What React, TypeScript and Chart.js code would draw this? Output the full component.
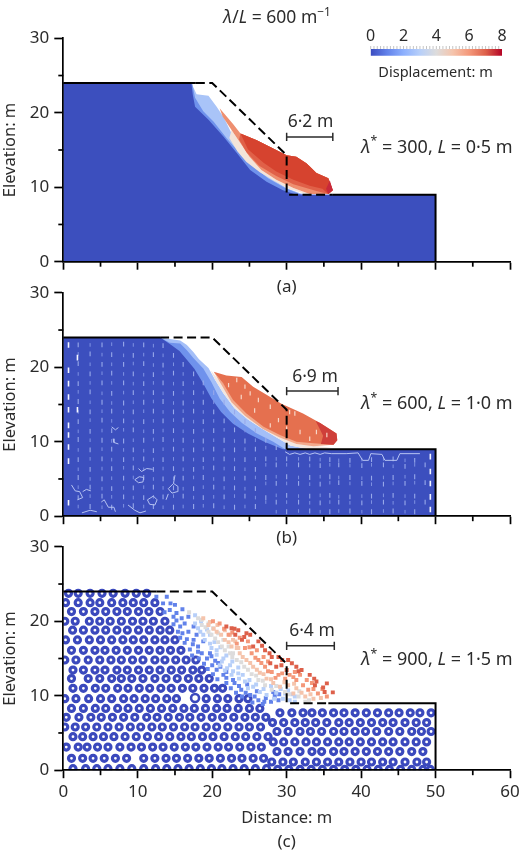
import React, { useEffect, useRef } from 'react';
import { Chart, registerables } from 'chart.js';

Chart.register(...registerables);
Chart.defaults.font.family = '"Noto Sans", sans-serif';

type Pt = [number, number];
type Run = [string, string?];

const INK = '#2b2b2b';
const BODY_BLUE = '#3c4fbe';

const xMinor = [5, 15, 25, 35, 45, 55];
const yMinor = [5, 15, 25];
const colorbarTicks = [0, 2, 4, 6, 8];
const colorbarStops = ['#3b4cc0', '#6282ea', '#8db0fe', '#b7cff9', '#dddcdc', '#f5c4ac', '#f4987a', '#dd604a', '#b40426'];

// panel (a): outlines of the coloured zones
const aLight: Pt[] = [[0, 0], [0, 24], [17.2, 24], [17.9, 22.5], [19.5, 22.3], [20.6, 20.8], [21.6, 19.3], [22.8, 16.8], [24.4, 14.8], [25.5, 13.2], [27.3, 11.6], [30, 9.9], [31.8, 9.2], [33.1, 9], [50, 9], [50, 0]];
const aBlueMid: Pt[] = [[0, 0], [0, 24], [17.3, 24], [17.7, 22], [18.8, 20.2], [20.2, 18.8], [22, 16.5], [23.7, 14.6], [25.4, 12.9], [27.5, 11.2], [29.8, 9.9], [32, 9], [50, 9], [50, 0]];
const aPale: Pt[] = [[22.6, 17.7], [23.8, 15.9], [25, 14.1], [26.6, 12.3], [28.6, 11], [30.9, 9.9], [33.1, 9.1], [33, 9], [30.5, 9.7], [28.4, 10.8], [26.4, 12], [24.6, 13.4], [23.4, 14.8], [22.3, 16.6]];
const aDeep: Pt[] = [[0, 0], [0, 24], [17.2, 24], [17.4, 22.4], [17.7, 20.8], [19.5, 19.05], [21.5, 16.8], [23.3, 14.6], [25.1, 12.3], [27.3, 10.75], [29.5, 9.6], [31, 9.1], [32.7, 9], [50, 9], [50, 0]];
const aSlide: Pt[] = [[21, 20.6], [22.8, 18.5], [23.8, 17.2], [26, 16.3], [28.6, 15], [30, 14.3], [31.3, 14.1], [32.7, 13.2], [34, 11.9], [35.6, 11.2], [36.2, 9.6], [35.6, 9.1], [33.1, 9.1], [30.9, 9.9], [28.6, 11], [26.6, 12.3], [25, 14.1], [23.8, 15.9], [22.6, 17.7], [21.4, 19.5]];
const aMid: Pt[] = [[23.8, 17.2], [26, 16.3], [28.6, 15], [30, 14.3], [31.3, 14.1], [32.7, 13.2], [34, 11.9], [35.6, 11.2], [36.2, 9.6], [35.6, 9.1], [34, 9.5], [30.9, 10.4], [28.6, 11.5], [26.3, 12.9], [24.6, 14.7], [23.6, 16.4]];
const aRed: Pt[] = [[23.8, 17.2], [26, 16.3], [28.6, 15], [30, 14.3], [31.3, 14.1], [32.7, 13.2], [34, 11.9], [35.6, 11.2], [36.2, 9.6], [35.6, 9.1], [34.8, 9.8], [33.1, 10.2], [30.9, 11], [28.6, 12.1], [26.9, 13.3], [24.8, 15.1]];
const aTip: Pt[] = [[35.8, 10.9], [36.2, 9.6], [35.6, 9.1], [35.3, 9.8]];

// panel (b)
const bLight: Pt[] = [[0, 0], [0, 24], [13, 24], [15.7, 23.6], [16.6, 23], [17.5, 22], [18.2, 21.1], [19.5, 19.9], [20.4, 18.3], [21.5, 16.5], [23, 14.5], [24.8, 13], [26.6, 11.8], [28.6, 10.6], [30.5, 9.5], [33, 9], [50, 9], [50, 0]];
const bBlueMid: Pt[] = [[0, 0], [0, 24], [13, 24], [14.3, 23.3], [15.7, 23.2], [16.6, 22.3], [17.5, 21.2], [18.8, 19.85], [19.9, 18], [21, 15.8], [22.4, 14], [24, 12.5], [26, 11.1], [28.2, 10], [29.8, 9], [50, 9], [50, 0]];
const bDeep: Pt[] = [[0, 0], [0, 24], [13, 24], [14.5, 23], [15.6, 22.2], [16.6, 21], [17.6, 19.8], [18.7, 18], [19.9, 15.8], [21.2, 14], [22.8, 12.4], [24.8, 11.1], [27, 10], [29.5, 9], [50, 9], [50, 0]];
const bPale: Pt[] = [[19.8, 19.6], [20.4, 18.3], [21.5, 16.5], [23, 14.5], [24.8, 13], [26.6, 11.8], [28.6, 10.6], [30.5, 9.5], [33, 9], [36, 9.2], [33.6, 9.5], [31.3, 9.7], [29.1, 10.7], [26.9, 11.9], [24.6, 13.7], [22.8, 15.5], [21.5, 17.6]];
const bPeach: Pt[] = [[20.2, 19.4], [21.4, 17.4], [22.6, 15.3], [24.4, 13.5], [26.8, 11.7], [29, 10.6], [31.3, 9.7], [33.6, 9.4], [36.3, 9.6], [33, 11], [28, 13], [23, 16]];
const bSlide: Pt[] = [[20.2, 19.4], [21.9, 18.9], [23.95, 18.7], [25.5, 17.4], [27.3, 16.3], [29.3, 15.1], [32.2, 13.8], [34.5, 12.5], [36.7, 11.1], [36.8, 10.2], [36.3, 9.6], [33.6, 9.8], [31.3, 10], [29.1, 10.9], [26.9, 12], [24.6, 13.8], [22.8, 15.6], [21.5, 17.8]];
const bTip: Pt[] = [[33.9, 12.8], [34.5, 12.5], [36.7, 11.1], [36.8, 10.2], [36.3, 9.6], [34.6, 9.7], [34.9, 10.8]];

const bDashColX = [2, 3.6, 5.2, 6.5, 8.1, 9.4, 10.8, 12.1, 13.4, 14.8, 16.1, 17.5, 18.8, 20.2, 21.6, 23, 24.4, 25.8, 27.2, 28.6, 30, 31.6, 33.1, 34.5, 35.8, 37, 38.5, 40.1, 41.4, 43, 44.3, 45.9, 47.2, 48.6];
const bDashColY = [
  [23, 20.5, 17.8, 15.4, 12.7, 10.3, 7.6, 5.2, 2.5],
  [21.8, 19.1, 16.7, 14, 11.4, 8.9, 6.3, 3.9, 1.3],
  [23, 20.4, 17.9, 15.3, 12.9, 10.2, 7.7, 5, 2.7],
  [21.7, 19.2, 16.5, 14.1, 11.5, 9, 6.4, 3.7, 1.2],
  [23.1, 20.4, 17.9, 15.2, 12.8, 10.1, 7.6, 5.1, 2.6],
  [21.6, 19.1, 16.6, 14, 11.6, 8.9, 6.5, 3.8, 1.4],
  [23, 20.5, 17.8, 15.3, 12.7, 10.2, 7.7, 5.2, 2.5],
  [21.7, 19, 16.6, 14.1, 11.4, 8.8, 6.3, 3.9, 1.3],
  [22.9, 20.3, 17.9, 15.4, 12.8, 10.3, 7.6, 5, 2.6],
  [21.6, 19.2, 16.5, 14, 11.5, 9, 6.4, 3.8, 1.2],
  [20.4, 17.8, 15.2, 12.9, 10.2, 7.7, 5.1, 2.7],
  [19.1, 16.6, 14.1, 11.4, 8.9, 6.3, 3.7, 1.3],
  [17.9, 15.3, 12.7, 10.1, 7.6, 5.2, 2.5],
  [16.6, 14, 11.5, 9, 6.5, 3.9, 1.4],
  [15.3, 12.8, 10.2, 7.7, 5, 2.6],
  [14, 11.6, 8.9, 6.4, 3.8, 1.2],
  [12.7, 10.1, 7.6, 5.1, 2.7],
  [11.5, 9, 6.3, 3.7, 1.3],
  [10.2, 7.7, 5.2, 2.5],
  [9.2, 6.9, 4.4, 1.9],
  [7.7, 5.3, 2.8, 0.6],
  [6.9, 4.4, 1.9],
  [7.7, 5.2, 2.7, 0.7],
  [6.8, 4.3, 1.8],
  [7.6, 5.3, 2.8, 0.6],
  [6.9, 4.5, 1.9],
  [7.5, 5.2, 2.6, 0.7],
  [6.8, 4.4, 1.8],
  [7.6, 5.1, 2.7, 0.6],
  [6.9, 4.3, 1.9],
  [7.7, 5.2, 2.8, 0.7],
  [6.7, 4.4, 1.8],
  [7.5, 5.3, 2.7, 0.6],
  [6.9, 4.5, 1.9],
];
const bSlideFlecks: Pt[] = [[24.4, 17.4], [25.1, 16.5], [26.2, 15.6], [27.8, 14.7], [30.4, 14], [31.1, 13.8], [27.8, 12.2], [30, 11.8], [31.8, 11.3], [34, 11.3], [33.1, 10.4], [35.4, 10.9], [23.3, 18.3], [22.2, 17.6], [23.9, 16], [25.7, 14.2], [28.9, 12.9]];
const bEdgeMarks: Pt[] = [[0.7, 23], [0.7, 19.6], [0.7, 17.8], [0.7, 16], [0.7, 14.3], [0.7, 12.2], [0.7, 10.9], [0.7, 9.3], [1.9, 21.3], [1.9, 14.3], [0.7, 7.4], [0.7, 1.8], [49.3, 8], [49.3, 6], [49.3, 4.4], [49.3, 2.6], [49.3, 0.9]];
const bSeam: Pt[] = [[29.8, 8.65], [30.4, 8.3], [31.1, 8.5], [31.8, 8.3], [32.5, 8.5], [33.1, 8.3], [33.8, 8.5], [34.5, 8.3], [35.1, 8.5], [36, 8.4], [38, 8.4], [39.6, 8.5], [40.2, 7.5], [41, 7.5], [41.3, 8.4], [42.8, 8.3], [43.2, 7.5], [44.8, 7.5], [45.2, 8.4], [47.9, 8.4]];
const bCracks: (Pt | null)[] = [
  [6.5, 12], [7, 11.6], [7.4, 11.9], null,
  [6.7, 10.4], [6.8, 9.9], [7.4, 9.7], null,
  [10.1, 6.4], [10.5, 6], [11.2, 6.4], [12, 6.3], null,
  [10.2, 5.3], [9.6, 4.9], [10.1, 4.5], [10.7, 4.6], [10.8, 5.2], [10.2, 5.3], null,
  [15, 5.5], [14.8, 4.4], [14.1, 3.7], [14.6, 3.1], [15.3, 3.3], [15.4, 4], [14.8, 4.4], null,
  [14.1, 3], [13.8, 2.2], null,
  [11.3, 2.2], [12.1, 2.7], [12.6, 2.2], [12.3, 1.5], [11.6, 1.6], [11.3, 2.2], null,
  [1.1, 4.2], [1.6, 3.4], [2.2, 3.3], [2.6, 2.5], [1.9, 2.2], null,
  [2.6, 3.3], [3.1, 3.6], [3.7, 3.4], null,
  [2.5, 0.45], [3.6, 0.8], [4.5, 0.6], null,
  [5.1, 1.9], [5.5, 2.2], [6.05, 1.2], [6.8, 1.2], [7, 0.6], null,
  [8.7, 1.5], [9.6, 0.8], [10.3, 0.45], [11.1, 0.7],
];

// panel (c): ring rows, then loose particles per displacement class
const ringRowY = [23.75, 22.5, 21.3, 20, 18.8, 17.5, 16.1, 14.8, 13.45, 12.3, 11, 9.6, 8.3, 7.1, 5.8, 4.5, 3.1, 1.6, 0.2, 7.7, 6.4, 5.2, 3.8, 2.5, 1.1, 0.1];
const ringRowX = [
  [0.7, 2, 3.6, 5.2, 6.7, 8.3, 9.8, 11.2],
  [0.3, 2, 3.6, 4.9, 6.5, 8, 9.4, 10.8, 12.3],
  [1.1, 2.7, 4.25, 5.7, 7.2, 8.6, 10.1, 11.5, 13],
  [0.2, 1.6, 3.5, 4.9, 6.3, 7.8, 9.3, 10.7, 12.1, 13.65],
  [1.25, 2.7, 4.25, 5.7, 7.2, 8.6, 10.1, 11.55, 13, 14.3],
  [0.3, 1.9, 3.5, 5, 6.5, 8, 9.4, 10.8, 12.3, 13.65, 15],
  [1.1, 2.7, 4.25, 5.6, 7.1, 8.6, 10.1, 11.55, 13, 14.4, 15.8],
  [0.2, 1.7, 3.35, 4.9, 6.4, 7.8, 9.3, 10.7, 12.3, 13.65, 15.1, 16.5, 17.8],
  [1.3, 2.7, 4.25, 5.6, 7.2, 8.6, 10.1, 11.55, 13, 14.5, 15.9, 17.4, 18.6],
  [1.1, 3.35, 4.9, 6.5, 7.8, 9.2, 10.7, 12.3, 13.8, 15.3, 16.8, 18.2, 19.6],
  [1.3, 2.7, 4.3, 5.7, 7.3, 8.7, 10.2, 11.6, 13.1, 14.5, 16, 17.4, 18.9, 20.3, 21.4],
  [0.2, 1.7, 3.4, 5, 6.5, 8.1, 9.5, 11, 12.4, 13.9, 15.2, 19.2, 20.7, 22.1, 23.6, 24.8],
  [1.1, 2.7, 4.3, 5.7, 7.3, 8.7, 10.2, 11.7, 13.2, 14.7, 16.2, 17.6, 19.1, 20.6, 22, 23.5, 25, 26.4],
  [0.4, 2.1, 3.7, 5.1, 6.6, 8.1, 9.6, 11.2, 12.6, 14.1, 15.6, 17, 18.5, 20, 21.4, 22.9, 24.4, 25.8, 27.2],
  [0.2, 1.6, 3, 4.5, 6, 7.5, 9, 10.4, 11.9, 13.3, 14.8, 16.3, 17.7, 19.2, 20.6, 22.1, 23.6, 25, 26.5],
  [1.3, 2.6, 4, 5.4, 6.8, 8.3, 9.8, 11.3, 12.8, 14.3, 15.8, 17.2, 18.7, 20.1, 21.6, 23.1, 24.5, 26, 27.5],
  [0.4, 2, 3.2, 4.6, 6, 7.6, 9.1, 10.5, 12, 13.4, 14.9, 16.4, 17.8, 19.3, 20.8, 22.2, 23.7, 25.2, 26.6],
  [1.1, 2.6, 4, 5.5, 7, 8.5, 10.8, 12.3, 13.8, 15.2, 16.7, 18.2, 19.6, 21.1, 22.6, 24, 25.5, 26.9],
  [1.3, 3, 4.5, 6, 7.6, 9.2, 10.8, 12.4, 13.9, 15.4, 16.9, 18.4, 19.9, 21.3, 22.8, 24.3, 25.8, 27.3],
  [29.1, 30.7, 32.2, 33.4, 34.8, 36.3, 37.7, 39.2, 40.7, 42.2, 43.7, 45.1, 46.6, 47.9, 49.4],
  [28.1, 29.6, 31.1, 32.5, 33.9, 35.4, 37, 38.4, 39.9, 41.4, 42.9, 44.3, 45.9, 47.4, 48.8],
  [28.7, 30.2, 31.8, 33.2, 34.7, 36.3, 37.7, 39.2, 40.6, 42.1, 43.7, 45.2, 46.8, 48.1, 49.4],
  [28.2, 29.6, 31.1, 32.6, 34, 35.5, 37, 38.4, 39.9, 41.4, 42.9, 44.3, 45.9, 47.4, 48.8],
  [28.7, 30.2, 31.8, 33.4, 34.7, 36.3, 37.7, 39.2, 40.7, 42.2, 43.7, 45.2, 46.8, 48.3],
  [28, 29.5, 30.9, 32.5, 34, 35.5, 37, 38.5, 40, 41.4, 42.9, 44.3, 45.9, 47.5, 48.8],
  [28.8, 30.3, 31.8, 33.3, 34.8, 36.3, 37.8, 39.3, 40.8, 42.3, 43.8, 45.3, 46.8, 48.3, 49.3],
];
const cBigRings: Pt[] = [[17.7, 9.7]];
const cDotClass = [1, 2.5, 4, 5, 6, 7];
const cDots: Pt[][] = [
  [[16.8, 20.6], [17.5, 19.3], [17.9, 18.2], [18.8, 17.3], [19.7, 15.7], [20.8, 14.4], [21.9, 13.2], [22.8, 12.1], [23.9, 10.8], [25.1, 10.1], [26.2, 9.4], [28.2, 10.5], [28.9, 9.4], [12.5, 23.3], [13.4, 22.4], [14.3, 21.5], [15.2, 21.1], [15.9, 20.4], [16.3, 19.7], [14.8, 20.6], [15.7, 19.3], [16.8, 18.6], [17.5, 17.5], [18.1, 16.6], [18.6, 15.7], [19.3, 15], [20, 14.1], [20.6, 13.5], [21.5, 12.8], [13.9, 23.3], [15, 22.2], [16, 21.6], [24.7, 11.5], [26, 10.6], [27.2, 9.7], [15.4, 18.6], [15.7, 17.8], [16.3, 17.1], [17, 16.2], [17.3, 15.4], [18.2, 15], [18.9, 14.3], [19.4, 13.6], [20.1, 12.9], [20.7, 12.2], [21.9, 11.7], [22.5, 11], [23.2, 10.4], [24, 9.9], [25.4, 9.1], [26.8, 8.9], [16, 18.4], [16.6, 17.6], [17.4, 16.9], [18.1, 15.9], [19.9, 15.3], [20.4, 14.7], [21.1, 13.9], [21.9, 12.4], [23, 11.7], [23.6, 11.3], [24.5, 10.4], [25.7, 9.9], [27, 9.2], [27.9, 9.2], [28.4, 10], [29, 10.2], [13.6, 21.2], [14.8, 19.6], [15.2, 20.1], [14.4, 22.4]],
  [[17.7, 20.8], [18.1, 19.05], [18.8, 18.2], [19.7, 17], [20.6, 16.1], [21.5, 15], [22.4, 14.1], [23.5, 13], [24.4, 11.9], [25.5, 11.2], [26.4, 10.5], [27.3, 10.1], [29.5, 9.6], [30.4, 9.4], [31.1, 9.2], [17.7, 19.7], [18.4, 18.6], [19, 17.5], [19.9, 16.4], [20.6, 15.5], [21.3, 14.6], [22, 13.7], [22.6, 12.8], [27.9, 11.3], [28.6, 10.4], [29.8, 10.3], [30.8, 10.2], [18.5, 20], [19.3, 18.9], [19.7, 18.2], [20.3, 17.2], [21.1, 16.5], [21.9, 15.4], [22.7, 14.6], [23.5, 13.8], [24.1, 12.8], [25, 12.1], [25.9, 11.5], [26.9, 10.9], [28.3, 9.6], [29.2, 10.9], [30.2, 10.7], [31.1, 9.9], [21, 14.1], [21.7, 13.4], [22.8, 13.3], [23.6, 12.3], [24.8, 11]],
  [[18.1, 20.4], [18.6, 19.5], [19.5, 18.6], [20.4, 17.7], [21.3, 16.6], [22.4, 15.7], [23.3, 14.8], [24.3, 13.9], [25.3, 12.9], [26.2, 12.1], [27.1, 11.4], [28, 10.8], [29.8, 10.5], [31.6, 9.9], [32.5, 9.2], [18.6, 20.2], [19.5, 19.7], [20.1, 19.05], [20.8, 18.4], [21.5, 17.5], [22.2, 16.6], [22.8, 15.7], [16.9, 21.2], [19.1, 19.2], [19.9, 18.2], [20.8, 17.2], [21.7, 16.1], [22.7, 15.2], [23.9, 14.5], [24.8, 13.5], [25.9, 12.7], [26.8, 12], [28.6, 11.3], [30.3, 10.2], [31.7, 10.6], [33, 9.4]],
  [[18.8, 20.4], [19.5, 19.5], [20.6, 18.6], [21.7, 17.5], [22.6, 16.6], [23.7, 15.7], [24.6, 14.8], [25.5, 13.9], [26.4, 13.1], [27.3, 12.3], [28.2, 11.7], [29.1, 11.2], [30.2, 11.4], [31.3, 11], [32.5, 9.9], [33.6, 9.6], [30.9, 10.3], [22.8, 17.5], [19.7, 19.9], [20.7, 19.5], [21.7, 18.8], [22.4, 18.2], [23.1, 17.3], [23.5, 16.4], [20.2, 19], [21.2, 18.2], [22.2, 17.2], [23.3, 16.4], [24.1, 15.2], [25.1, 14.4], [26, 13.5], [26.9, 12.9], [27.9, 12.2], [29.7, 11.8], [31, 11.6], [32, 10.4], [33.2, 10.2], [34.6, 9.7]],
  [[21, 19.7], [20.1, 20], [22.2, 18.2], [23.3, 17], [24.4, 16.4], [25.3, 15.7], [26.2, 14.8], [27.1, 13.9], [28, 13.2], [28.9, 12.8], [29.8, 12.3], [30.4, 12.8], [31.3, 12.1], [32.2, 11.4], [32.9, 10.8], [34.2, 10.3], [35.4, 9.9], [31.1, 13.2], [32.7, 12.1], [26, 16.1], [24.8, 17.3], [26.9, 15.2], [21.6, 19], [22.7, 18.5], [23.7, 17.8], [25, 16.5], [25.8, 15.1], [26.6, 14.4], [27.5, 14.6], [27.5, 13.3], [28.5, 12.4], [29.4, 13], [30.9, 12.5], [31.8, 12.8], [33.4, 11.7], [33.6, 10.9], [34.8, 10.9]],
  [[36.2, 10.45], [35.4, 11.66], [34.9, 11.1], [34, 11.9], [33.1, 12.8], [33.7, 12.3], [32, 13.45], [31.3, 13.9], [30.7, 14.35], [30.2, 14.8], [28.9, 15.2], [28, 15.2], [27.1, 16.1], [26.2, 17.3], [25.1, 18.2], [24.3, 17.9], [23.5, 18.8], [22.6, 19.05], [24, 17.5], [23.1, 18.2], [21.9, 19.3], [25.5, 16.6], [27.8, 14.35], [28.6, 13.9], [29.3, 14.1], [30, 13.45], [35.1, 10.5], [33.8, 11.4], [23, 19], [24.6, 18.4], [26.7, 16.7], [27.7, 15.7], [29.4, 14.8], [31.6, 13.3]],
];

// outlines of the original slope, drawn the same on each panel apart from where the dashes start
const aSolid: (Pt | null)[] = [[0, 24], [17.8, 24], null, [36.2, 9], [50, 9], [50, 0]];
const aDash: Pt[] = [[17.8, 24], [20, 24], [30, 14.3], [30, 9], [36.2, 9]];
const bSolid: (Pt | null)[] = [[0, 24], [13, 24], null, [30, 9], [50, 9], [50, 0]];
const bDash: Pt[] = [[13, 24], [20, 24], [30, 14.3], [30, 9]];
const cSolid: (Pt | null)[] = [[0, 24], [12.5, 24], null, [35.6, 9], [50, 9], [50, 0]];
const cDash: Pt[] = [[12.5, 24], [20, 24], [30, 14.3], [30, 9], [35.6, 9]];

const aBracket: (Pt | null)[] = [[30, 17.3], [30, 16.2], null, [30, 16.75], [36.2, 16.75], null, [36.2, 17.3], [36.2, 16.2]];
const bBracket: (Pt | null)[] = [[30, 17.35], [30, 16.25], null, [30, 16.8], [36.9, 16.8], null, [36.9, 17.35], [36.9, 16.25]];
const cBracket: (Pt | null)[] = [[30, 17.25], [30, 16.15], null, [30, 16.7], [36.4, 16.7], null, [36.4, 17.25], [36.4, 16.15]];

const ratioLabel: Run[] = [['λ', 'i'], ['/'], ['L', 'i'], [' = 600 m'], ['−1', 's']];
const aParams: Run[] = [['λ', 'i'], ['*', 's'], [' = 300, '], ['L', 'i'], [' = 0·5 m']];
const bParams: Run[] = [['λ', 'i'], ['*', 's'], [' = 600, '], ['L', 'i'], [' = 1·0 m']];
const cParams: Run[] = [['λ', 'i'], ['*', 's'], [' = 900, '], ['L', 'i'], [' = 1·5 m']];

function cool(d: number): string {
  return colorbarStops[Math.round(d)];
}

function toXY(pts: (Pt | null)[]) {
  return pts.map((p) => (p ? { x: p[0], y: p[1] } : { x: null, y: null }));
}

function poly(pts: Pt[], color: string) {
  return { data: toXY(pts), showLine: true, fill: 'shape', borderWidth: 0, pointRadius: 0, backgroundColor: color, borderColor: color, clip: false };
}

function line(pts: (Pt | null)[], color: string, width: number, dash: number[] = []) {
  return { data: toXY(pts), showLine: true, fill: false, borderWidth: width, borderDash: dash, pointRadius: 0, borderColor: color, backgroundColor: color, clip: false, spanGaps: false };
}

function marks(pts: Pt[], style: string, r: number, bg: string, border: string, bw: number, rotation = 0) {
  return { data: toXY(pts), showLine: false, pointStyle: style, pointRadius: r, pointRotation: rotation, backgroundColor: bg, borderColor: border, pointBorderWidth: bw, borderWidth: bw };
}

function drawRich(ctx: CanvasRenderingContext2D, runs: Run[], px: number, py: number, size: number, center: boolean) {
  const fontOf = (r: Run) => `${r[1] === 'i' ? 'italic ' : ''}${r[1] === 's' ? size * 0.68 : size}px "Noto Sans"`;
  let total = 0;
  runs.forEach((r) => { ctx.font = fontOf(r); total += ctx.measureText(r[0]).width; });
  let x = center ? px - total / 2 : px;
  ctx.textAlign = 'left';
  ctx.textBaseline = 'middle';
  ctx.fillStyle = INK;
  runs.forEach((r) => {
    ctx.font = fontOf(r);
    ctx.fillText(r[0], x, (r[1] === 's' ? py - size * 0.32 : py) + 2);
    x += ctx.measureText(r[0]).width;
  });
}

interface PanelCfg {
  datasets: any[];
  plotTop: number;
  xHeight: number;
  height: number;
  showX: boolean;
  panelName: string;
  nameY: number;
  spanLabel: string;
  spanAt: Pt;
  params: Run[];
  paramsY: number;
  header?: boolean;
}

function makePanel(canvas: HTMLCanvasElement, cfg: PanelCfg) {
  const annotate = {
    id: 'annotate',
    afterDraw(chart: any) {
      const { ctx, scales: { x, y } } = chart;
      ctx.save();
      // minor ticks, shorter than the major ones
      ctx.strokeStyle = '#000';
      ctx.lineWidth = 1.7;
      xMinor.forEach((v) => {
        const px = x.getPixelForValue(v);
        ctx.beginPath(); ctx.moveTo(px, y.bottom); ctx.lineTo(px, y.bottom + 5); ctx.stroke();
      });
      yMinor.forEach((v) => {
        const py = y.getPixelForValue(v);
        ctx.beginPath(); ctx.moveTo(x.left, py); ctx.lineTo(x.left - 5, py); ctx.stroke();
      });
      drawRich(ctx, [[cfg.panelName]], x.getPixelForValue(30), y.getPixelForValue(cfg.nameY), 17, true);
      drawRich(ctx, [[cfg.spanLabel]], x.getPixelForValue(cfg.spanAt[0]), y.getPixelForValue(cfg.spanAt[1]), 17.5, true);
      drawRich(ctx, cfg.params, x.getPixelForValue(40), y.getPixelForValue(cfg.paramsY), 18, false);
      if (cfg.header) drawRich(ctx, ratioLabel, x.getPixelForValue(28.7), y.getPixelForValue(33), 17.5, true);
      ctx.restore();
    },
  };
  return new Chart(canvas, {
    type: 'scatter',
    data: { datasets: cfg.datasets.map((d, i) => ({ ...d, order: cfg.datasets.length - i })) },
    plugins: [annotate],
    options: {
      animation: false,
      responsive: false,
      devicePixelRatio: 1,
      events: [],
      layout: { autoPadding: false, padding: { top: cfg.plotTop, right: 10, left: 0, bottom: cfg.height - cfg.plotTop - 223.4 - cfg.xHeight } },
      plugins: { legend: { display: false }, tooltip: { enabled: false } },
      scales: {
        x: {
          type: 'linear', min: 0, max: 60,
          border: { color: '#000', width: 1.7, z: 2 },
          grid: { drawOnChartArea: false, color: '#000', tickColor: '#000', tickWidth: 1.7, tickLength: 8, z: 2 },
          ticks: { display: cfg.showX, stepSize: 10, maxRotation: 0, color: INK, font: { size: 17 }, padding: 4 },
          title: { display: cfg.showX, text: 'Distance: m', color: INK, font: { size: 16.5 }, padding: 0 },
          // the last tick label must not push the plot area in
          afterFit: (s: any) => { s.height = cfg.xHeight; s.paddingLeft = 0; s.paddingRight = 0; },
        },
        y: {
          type: 'linear', min: 0, max: 30,
          border: { color: '#000', width: 1.7, z: 2 },
          grid: { drawOnChartArea: false, color: '#000', tickColor: '#000', tickWidth: 1.7, tickLength: 9, z: 2 },
          ticks: { stepSize: 10, color: INK, font: { size: 17 }, padding: 5 },
          title: { display: true, text: 'Elevation: m', color: INK, font: { size: 16.5 }, padding: 0 },
          afterFit: (s: any) => { s.width = 63.3; s.paddingTop = 0; s.paddingBottom = 0; },
        },
      },
    },
  } as any);
}

function makeColorbar(canvas: HTMLCanvasElement) {
  const captionAndTicks = {
    id: 'captionAndTicks',
    afterDraw(chart: any) {
      const { ctx, scales: { x }, chartArea } = chart;
      ctx.save();
      ctx.strokeStyle = '#c4c4c4';
      ctx.lineWidth = 1;
      for (let v = 0; v <= 8; v += 0.2) {
        const px = x.getPixelForValue(v);
        ctx.beginPath(); ctx.moveTo(px, chartArea.top - 3); ctx.lineTo(px, chartArea.top); ctx.stroke();
      }
      drawRich(ctx, [['Displacement: m']], x.getPixelForValue(3.95), chartArea.bottom + 15, 14.5, true);
      ctx.restore();
    },
  };
  return new Chart(canvas, {
    type: 'bar',
    data: {
      labels: ['Displacement'],
      datasets: [{
        data: [[0, 8]],
        barPercentage: 1,
        categoryPercentage: 1,
        backgroundColor: (c: any) => {
          const { ctx, chartArea } = c.chart;
          if (!chartArea) return colorbarStops[0];
          const g = ctx.createLinearGradient(chartArea.left, 0, chartArea.right, 0);
          colorbarStops.forEach((col, i) => g.addColorStop(i / (colorbarStops.length - 1), col));
          return g;
        },
      }],
    },
    plugins: [captionAndTicks],
    options: {
      indexAxis: 'y',
      animation: false,
      responsive: false,
      devicePixelRatio: 1,
      events: [],
      layout: { autoPadding: false, padding: { left: 30.7, right: 18, top: 0, bottom: 29.3 } },
      plugins: { legend: { display: false }, tooltip: { enabled: false } },
      scales: {
        y: { display: false },
        x: {
          position: 'top', type: 'linear', min: 0, max: 8,
          afterBuildTicks: (s: any) => { s.ticks = colorbarTicks.map((value) => ({ value })); },
          border: { display: false },
          grid: { display: false, drawTicks: false },
          ticks: { color: INK, font: { size: 16 }, padding: 3, maxRotation: 0 },
          afterFit: (s: any) => { s.height = 29; s.paddingLeft = 0; s.paddingRight = 0; },
        },
      },
    },
  } as any);
}

const panelA: PanelCfg = {
  datasets: [
    poly(aLight, '#a9c4f8'),
    poly(aBlueMid, '#6f92ec'),
    poly(aPale, '#f3e4d9'),
    poly(aSlide, '#ee8f70'),
    poly(aMid, '#e06048'),
    poly(aRed, '#d6432f'),
    poly(aTip, '#c8283a'),
    poly(aDeep, BODY_BLUE),
    line(aSolid, '#000', 2),
    line(aDash, '#000', 2, [9, 4.5]),
    line(aBracket, INK, 1.5),
  ],
  plotTop: 38.3, xHeight: 30, height: 295, showX: false,
  panelName: '(a)', nameY: -3.1, spanLabel: '6·2 m', spanAt: [33.2, 19.05],
  params: aParams, paramsY: 15.6, header: true,
};

const panelB: PanelCfg = {
  datasets: [
    poly(bLight, '#a4bff8'),
    poly(bBlueMid, '#6f92ec'),
    poly(bPale, '#f2e6df'),
    poly(bPeach, '#f2a98c'),
    poly(bSlide, '#e5704f'),
    poly(bTip, '#cf3f3a'),
    poly(bDeep, BODY_BLUE),
    marks(bDashColX.slice(0, -1).flatMap((x, i) => bDashColY[i + 1].map((y): Pt => [x, y])), 'line', 1.8, '#7f92e2', '#7f92e2', 1, 90),
    marks(bDashColX.flatMap((x, i) => bDashColY[i].map((y): Pt => [x, y])), 'line', 2.4, '#98a9ea', '#98a9ea', 1.1, 90),
    marks(bEdgeMarks, 'line', 2.8, '#fff', '#f4f6ff', 1.6, 90),
    marks(bSlideFlecks, 'line', 2.2, '#f7d7c8', '#f7d7c8', 1.2, 90),
    line(bSeam, '#b6c3f2', 1),
    line(bCracks, '#b6c3f2', 1),
    line(bSolid, '#000', 2),
    line(bDash, '#000', 2, [9, 4.5]),
    line(bBracket, INK, 1.5),
  ],
  plotTop: 22.8, xHeight: 30, height: 280, showX: false,
  panelName: '(b)', nameY: -2.7, spanLabel: '6·9 m', spanAt: [33.8, 18.9],
  params: bParams, paramsY: 15.3,
};

const panelC: PanelCfg = {
  datasets: [
    marks(ringRowX.flatMap((xs, i) => xs.map((x): Pt => [x, ringRowY[i]])), 'circle', 3, '#fff', '#3b49bd', 3.2),
    marks(cBigRings, 'circle', 4, '#fff', '#3b49bd', 2.6),
    ...cDots.map((pts, i) => marks(pts, 'rect', 2.8, cool(cDotClass[i]), cool(cDotClass[i]), 0)),
    line(cSolid, '#000', 2),
    line(cDash, '#000', 2, [9, 4.5]),
    line(cBracket, INK, 1.5),
  ],
  plotTop: 21.8, xHeight: 58, height: 328, showX: true,
  panelName: '(c)', nameY: -9.4, spanLabel: '6·4 m', spanAt: [33.4, 19],
  params: cParams, paramsY: 15.05,
};

const layout = [
  { cfg: panelA, top: 0 },
  { cfg: panelB, top: 270 },
  { cfg: panelC, top: 525 },
];

const App = () => {
  const refs = useRef<(HTMLCanvasElement | null)[]>([]);
  const barRef = useRef<HTMLCanvasElement | null>(null);

  useEffect(() => {
    const charts = layout.map((p, i) => makePanel(refs.current[i] as HTMLCanvasElement, p.cfg));
    if (barRef.current) charts.push(makeColorbar(barRef.current));
    return () => {
      charts.forEach((c) => c.destroy());
    };
  }, []);

  const soft = 'blur(0.4px)'; // the reference is a soft scan

  return (
    <div style={{ position: 'absolute', left: 0, top: 0, width: 520, height: 853, overflow: 'hidden', background: '#fff' }}>
      {layout.map((p, i) => (
        <canvas
          key={p.cfg.panelName}
          ref={(el) => { refs.current[i] = el; }}
          width={520}
          height={p.cfg.height}
          style={{ position: 'absolute', left: 0, top: p.top, width: 520, height: p.cfg.height, filter: soft }}
        />
      ))}
      <canvas ref={barRef} width={180} height={65} style={{ position: 'absolute', left: 340, top: 20, width: 180, height: 65, filter: soft }} />
    </div>
  );
};

export default App;
